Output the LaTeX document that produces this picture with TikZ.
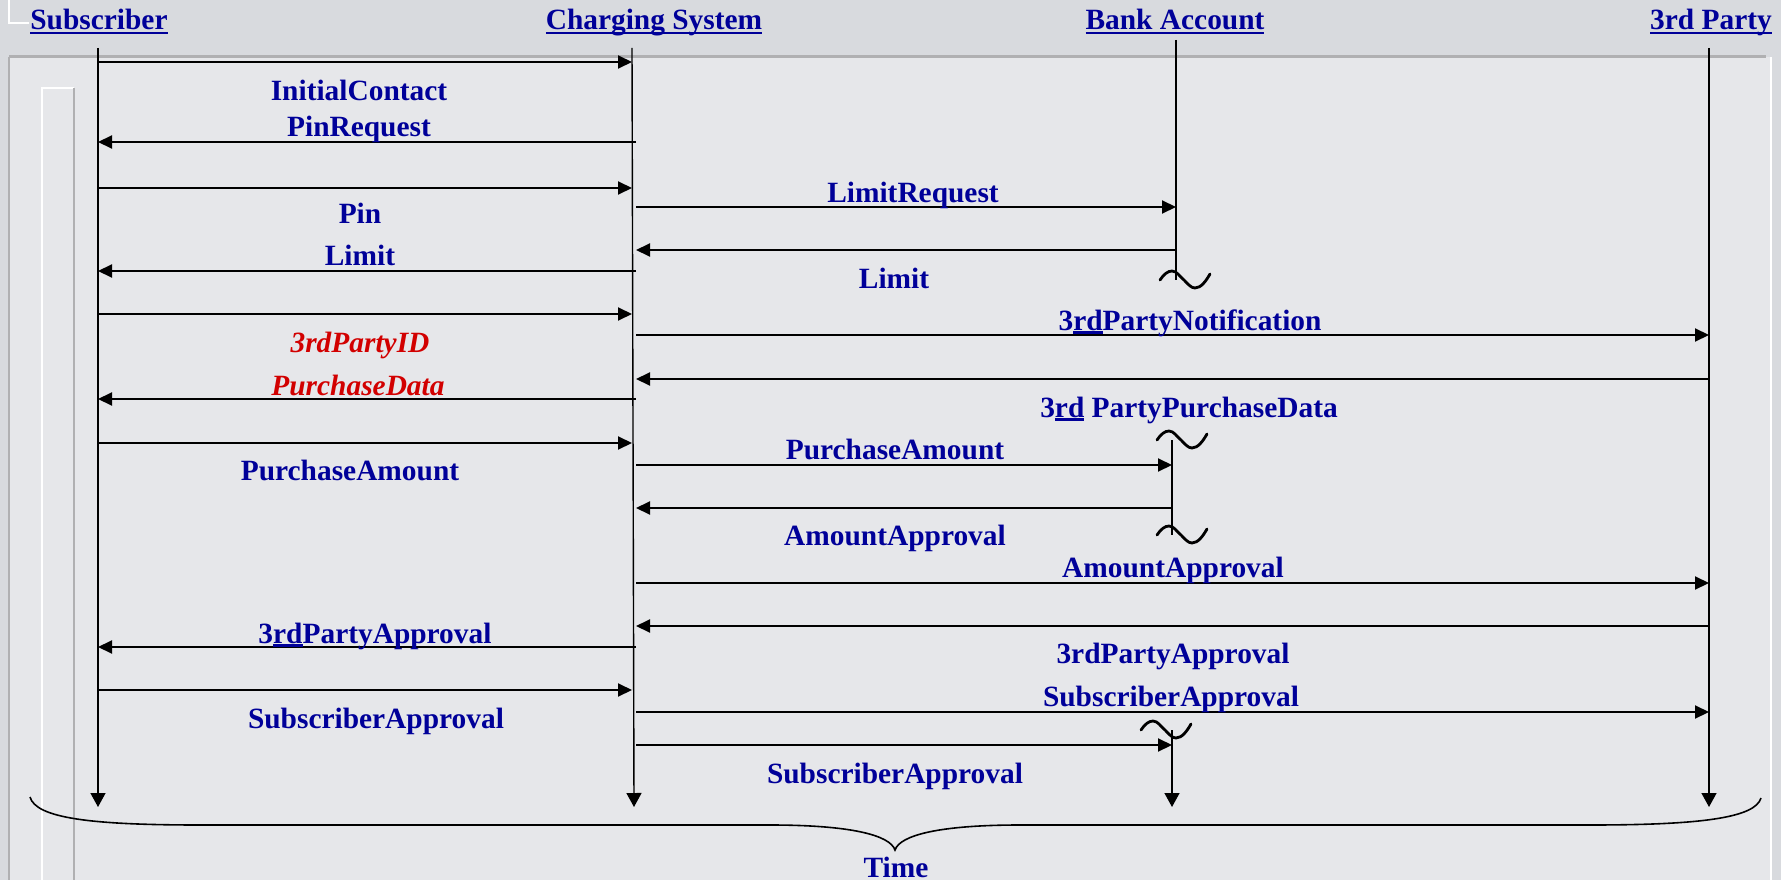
\documentclass[tikz,border=0pt]{standalone}
\usepackage{fontspec}
\setmainfont{Liberation Serif}
\usetikzlibrary{arrows.meta}
\definecolor{navy}{RGB}{0,0,153}
\definecolor{redtxt}{RGB}{210,0,0}
\definecolor{marble}{RGB}{216,218,222}
\definecolor{panelbg}{RGB}{230,231,234}
\definecolor{edgegrey}{RGB}{176,176,178}
\newcommand\ulrd[2][4.3pt]{\setbox0\hbox{#2}\rlap{\rule[-#1]{\wd0}{2.2pt}}\box0\relax}
\tikzset{
  lbl/.style={font=\fontsize{29.4}{32}\selectfont\bfseries, text=navy, anchor=base, inner sep=0pt},
  redlbl/.style={font=\fontsize{29.4}{32}\selectfont\bfseries\itshape, text=redtxt, anchor=base, inner sep=0pt},
  life/.style={line width=1.4pt, draw=black},
  lifearrow/.style={life, -{Triangle[length=14pt,width=15pt]}},
  msg/.style={line width=2pt, draw=black, -{Triangle[length=14pt,width=13pt]}},
  squiggle/.style={line width=2.8pt, draw=black, line cap=round},
  brace/.style={line width=1.6pt, draw=black},
}
\newcommand\squig[1]{\begin{scope}[shift={(#1)}]
  \draw[squiggle] (-24,0) .. controls (-20,-6) and (-16,-9) .. (-12,-9) .. controls (-7,-9) and (-4,-3) .. (0,0) .. controls (4,4) and (7,8) .. (11,8) .. controls (17,8) and (22,1) .. (26,-6);
\end{scope}}
\begin{document}
\begin{tikzpicture}[x=1pt,y=-1pt]
\useasboundingbox (0,0) rectangle (1781,880);
% background
\fill[marble] (0,0) rectangle (1781,880);
\fill[panelbg] (9,57) rectangle (1770,880);
\draw[edgegrey, line width=3pt] (9,57) -- (1766,57);
\draw[edgegrey, line width=1.5pt] (9,57) -- (9,880);
\draw[white, line width=1.5pt] (9,0) -- (9,23) -- (29,23);
\draw[white, line width=1.5pt] (74,88) -- (42,88) -- (42,880);
\draw[edgegrey, line width=1.5pt] (74,88) -- (74,880);
\draw[white, line width=1.5pt] (1771,57) -- (1771,880);

% headers
\node[lbl] (hsub) at (99,30) {\ulrd{Subscriber}};
\node[lbl] (hchg) at (654,30) {\ulrd{Charging System}};
\node[lbl] (hbank) at (1175,30) {\ulrd{Bank Account}};
\node[lbl] (hthr) at (1711,30) {\ulrd{3rd Party}};

% lifeline coordinates
\coordinate (subT) at (98,48);   \coordinate (subB) at (98,807);
\coordinate (chgT) at (632,48);  \coordinate (chgB) at (634,807);
\coordinate (chgR) at (636,48);
\coordinate (bankT) at (1176,40); \coordinate (bank1) at (1176,280);
\coordinate (bank2) at (1172,440); \coordinate (bank3) at (1172,535);
\coordinate (bank4) at (1172,730); \coordinate (bankB) at (1172,807);
\coordinate (thrT) at (1709,48); \coordinate (thrB) at (1709,807);

% lifelines
\draw[lifearrow] (subT) -- (subB);
\draw[lifearrow] (chgT) -- (chgB);
\draw[lifearrow] (thrT) -- (thrB);
\draw[life] (bankT) -- (bank1);
\draw[life] (bank2) -- (bank3);
\draw[lifearrow] (bank4) -- (bankB);

% squiggles on bank account line
\coordinate (sq1) at (1184,280);
\coordinate (sq2) at (1181,440);
\coordinate (sq3) at (1181,535);
\coordinate (sq4) at (1165,730);
\squig{sq1}\squig{sq2}\squig{sq3}\squig{sq4}

% messages
\draw[msg] (subT |- 0,62)  -- (chgT |- 0,62);
\draw[msg] (chgR |- 0,142) -- (subT |- 0,142);
\draw[msg] (subT |- 0,188) -- (chgT |- 0,188);
\draw[msg] (chgR |- 0,207) -- (bankT |- 0,207);
\draw[msg] (bankT |- 0,250) -- (chgR |- 0,250);
\draw[msg] (chgR |- 0,271) -- (subT |- 0,271);
\draw[msg] (subT |- 0,314) -- (chgT |- 0,314);
\draw[msg] (chgR |- 0,335) -- (thrT |- 0,335);
\draw[msg] (thrT |- 0,379) -- (chgR |- 0,379);
\draw[msg] (chgR |- 0,399) -- (subT |- 0,399);
\draw[msg] (subT |- 0,443) -- (chgT |- 0,443);
\draw[msg] (chgR |- 0,465) -- (bank2 |- 0,465);
\draw[msg] (bank2 |- 0,508) -- (chgR |- 0,508);
\draw[msg] (chgR |- 0,583) -- (thrT |- 0,583);
\draw[msg] (thrT |- 0,626) -- (chgR |- 0,626);
\draw[msg] (chgR |- 0,647) -- (subT |- 0,647);
\draw[msg] (subT |- 0,690) -- (chgT |- 0,690);
\draw[msg] (chgR |- 0,712) -- (thrT |- 0,712);
\draw[msg] (chgR |- 0,745) -- (bank4 |- 0,745);

% labels
\node[lbl] (l1) at (359,101) {InitialContact};
\node[lbl] (l2) at (359,137) {PinRequest};
\node[lbl] (l3) at (360,223) {Pin};
\node[lbl] (l4) at (360,265) {Limit};
\node[redlbl] (l5) at (360,352) {3rdPartyID};
\node[redlbl] (l6) at (358,395) {PurchaseData};
\node[lbl] (l7) at (350,480) {PurchaseAmount};
\node[lbl] (l8) at (375,643) {3\ulrd[3.5pt]{rd}PartyApproval};
\node[lbl] (l9) at (376,728) {SubscriberApproval};
\node[lbl] (m1) at (913,202) {LimitRequest};
\node[lbl] (m2) at (894,288) {Limit};
\node[lbl] (m3) at (1190,330) {3\ulrd[3.5pt]{rd}PartyNotification};
\node[lbl] (m4) at (1189,417) {3\ulrd[3.5pt]{rd} PartyPurchaseData};
\node[lbl] (m5) at (895,459) {PurchaseAmount};
\node[lbl] (m6) at (895,545) {AmountApproval};
\node[lbl] (m7) at (1173,577) {AmountApproval};
\node[lbl] (m8) at (1173,663) {3rdPartyApproval};
\node[lbl] (m9) at (1171,706) {SubscriberApproval};
\node[lbl] (m10) at (895,783) {SubscriberApproval};

% time brace
\coordinate (brL) at (30,797);
\coordinate (brM) at (895,850);
\coordinate (brR) at (1761,798);
\draw[brace] (brL) .. controls (36,818) and (90,825) .. (200,825) -- (770,825)
  .. controls (850,825) and (890,835) .. (brM)
  .. controls (900,835) and (940,825) .. (1020,825) -- (1590,825)
  .. controls (1700,825) and (1755,818) .. (brR);
\node[lbl] (time) at (896,877) {Time};
\end{tikzpicture}
\end{document}
